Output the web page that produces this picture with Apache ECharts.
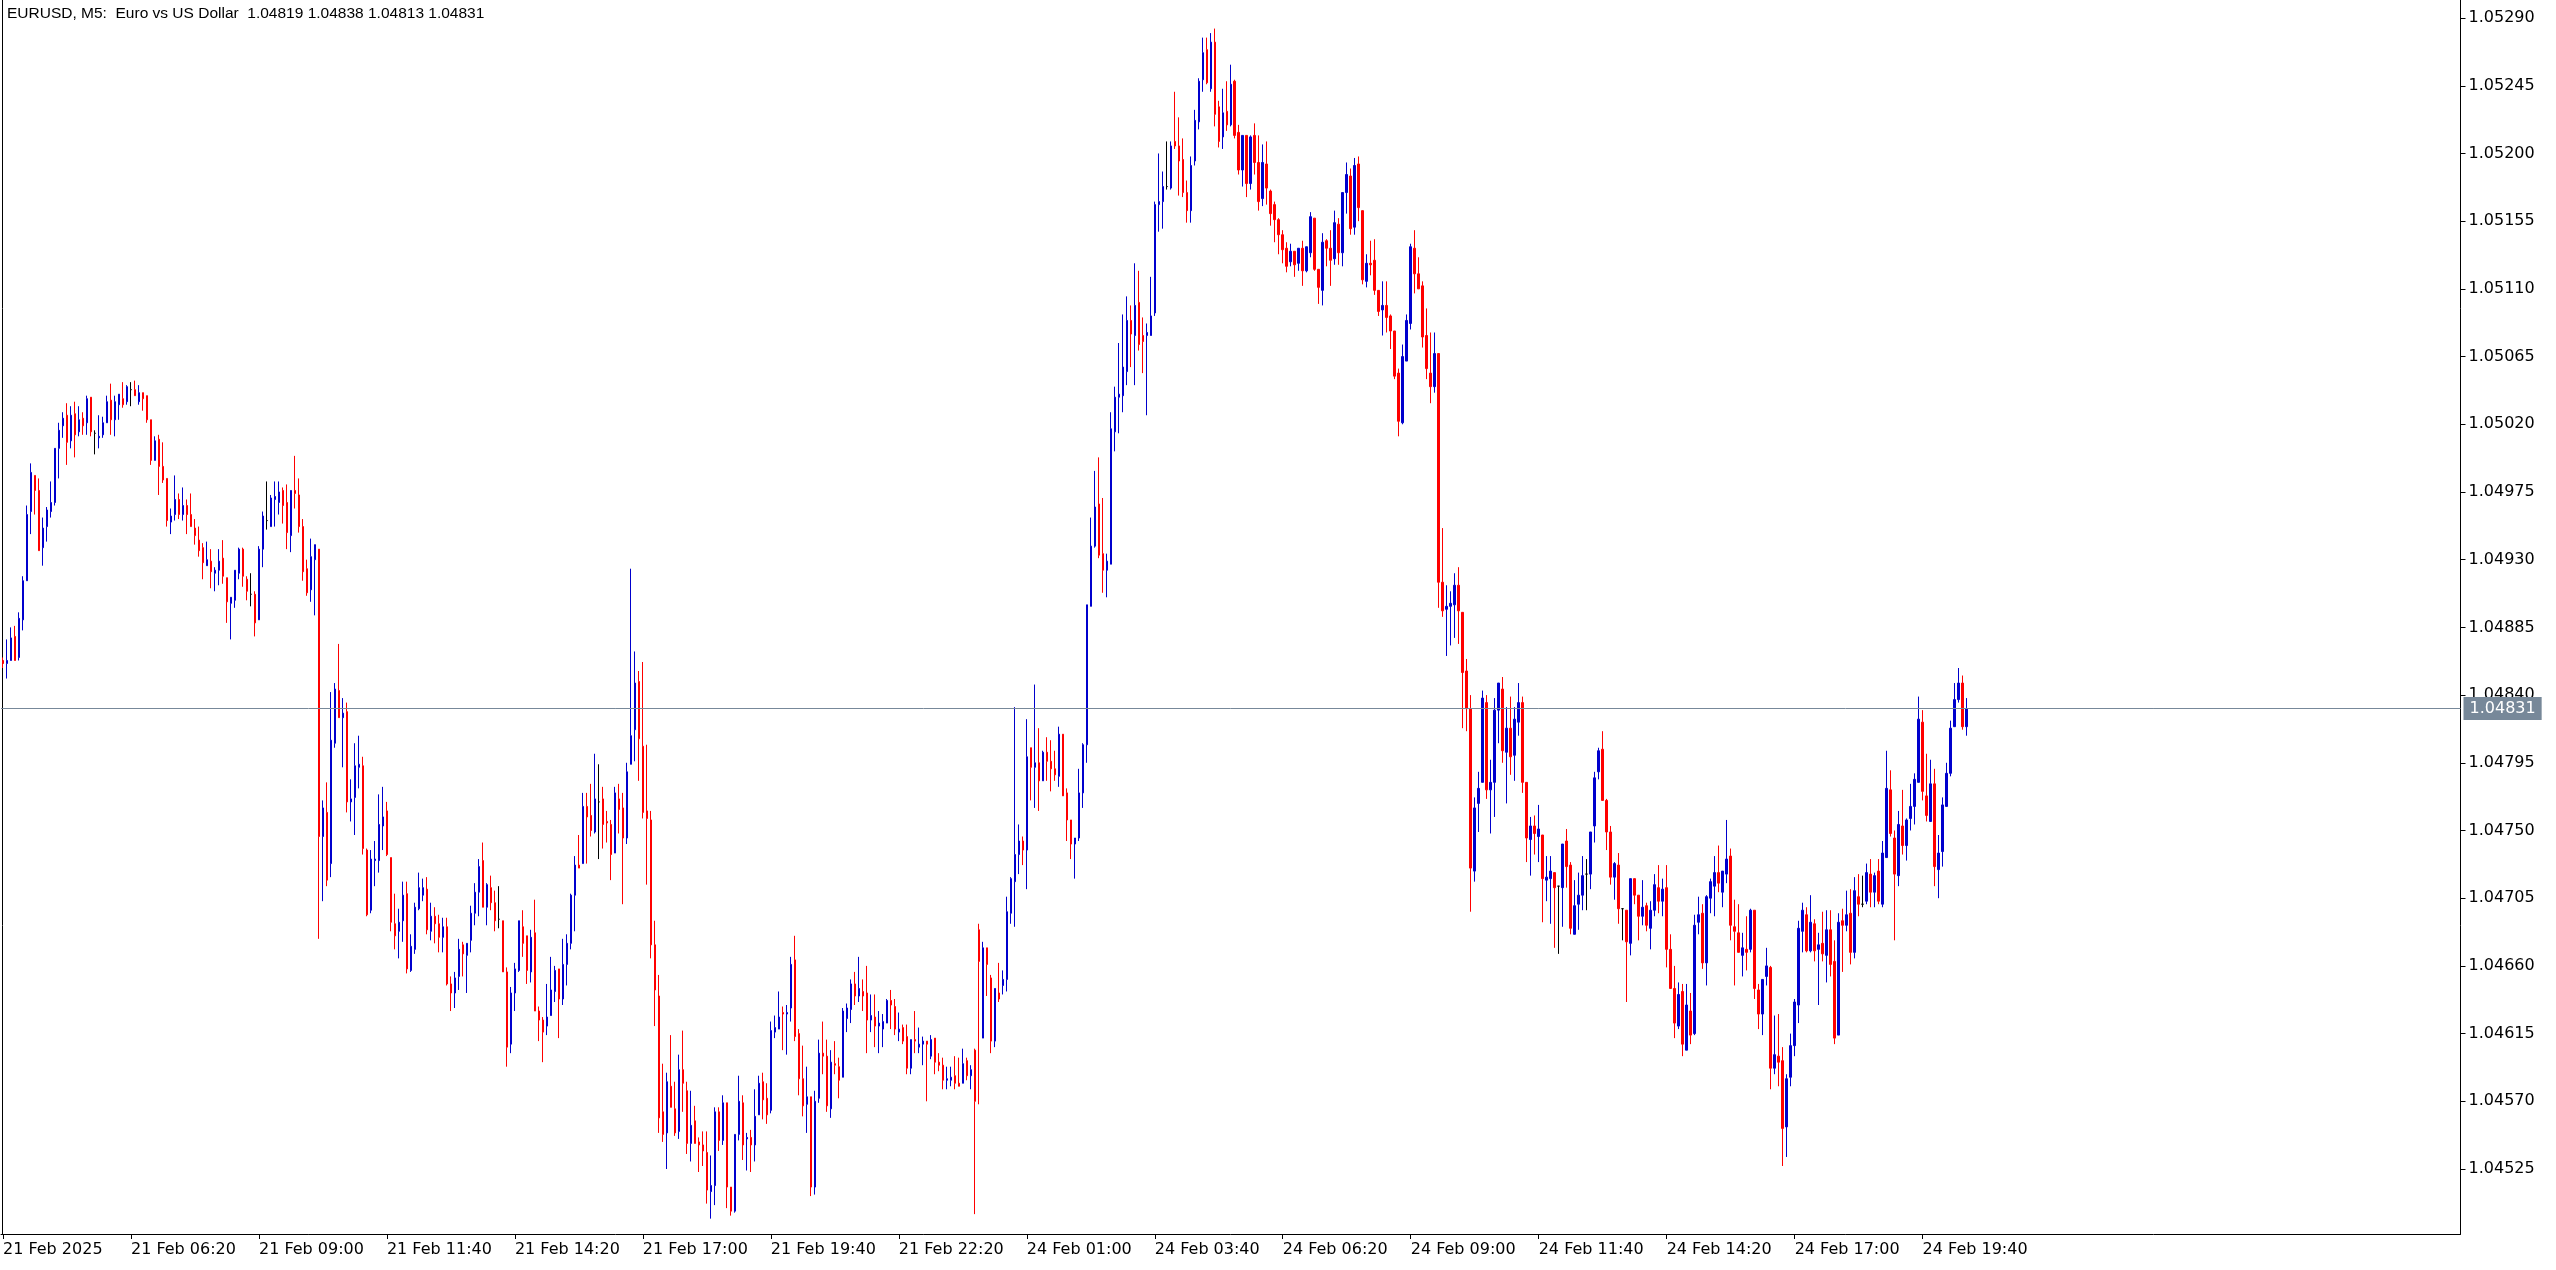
<!DOCTYPE html>
<html>
<head>
<meta charset="utf-8">
<script src="https://cdn.jsdelivr.net/npm/echarts@6/dist/echarts.min.js"></script>
<style>
html,body{margin:0;padding:0;background:#fff;}
#chart{width:2556px;height:1270px;}
</style>
</head>
<body>
<div id="chart"></div>
<script>
// ---- data (EURUSD M5 candles) ----
const symbolTitle = 'EURUSD, M5:  Euro vs US Dollar';
const opens = [
1.04863,1.04861,1.04863,1.04879,1.04865,1.04890,1.04916,1.04962,1.04986,1.04976,
1.04938,1.04952,1.04962,1.04968,1.05004,1.05019,1.05026,1.05009,1.05027,1.05015,
1.05024,1.05021,1.05038,1.05014,1.05011,1.05013,1.05021,1.05036,1.05023,1.05033,
1.05037,1.05035,1.05043,1.05043,1.05035,1.05041,1.05039,1.05023,1.04996,1.05010,
1.04992,1.04984,1.04955,1.04960,1.04970,1.04960,1.04966,1.04960,1.04951,1.04943,
1.04938,1.04926,1.04929,1.04921,1.04923,1.04931,1.04918,1.04901,1.04903,1.04921,
1.04937,1.04917,1.04907,1.04907,1.04890,1.04937,1.04956,1.04952,1.04970,1.04968,
1.04976,1.04968,1.04946,1.04976,1.04973,1.04952,1.04924,1.04910,1.04930,1.04937,
1.04746,1.04762,1.04728,1.04808,1.04843,1.04825,1.04829,1.04769,1.04772,1.04792,
1.04793,1.04737,1.04697,1.04730,1.04730,1.04753,1.04763,1.04732,1.04688,1.04683,
1.04690,1.04708,1.04657,1.04671,1.04698,1.04707,1.04711,1.04683,1.04693,1.04688,
1.04679,1.04686,1.04648,1.04642,1.04653,1.04674,1.04667,1.04677,1.04695,1.04709,
1.04730,1.04699,1.04712,1.04702,1.04691,1.04690,1.04656,1.04608,1.04642,1.04657,
1.04686,1.04680,1.04656,1.04682,1.04630,1.04624,1.04620,1.04627,1.04643,1.04658,
1.04638,1.04661,1.04675,1.04707,1.04727,1.04728,1.04766,1.04760,1.04749,1.04769,
1.04771,1.04756,1.04754,1.04735,1.04771,1.04765,1.04745,1.04794,1.04817,1.04849,
1.04806,1.04763,1.04757,1.04674,1.04640,1.04563,1.04549,1.04580,1.04565,1.04550,
1.04591,1.04577,1.04542,1.04557,1.04543,1.04541,1.04536,1.04510,1.04514,1.04563,
1.04544,1.04569,1.04513,1.04497,1.04548,1.04569,1.04545,1.04546,1.04541,1.04561,
1.04583,1.04572,1.04564,1.04616,1.04618,1.04629,1.04628,1.04632,1.04664,1.04615,
1.04585,1.04568,1.04573,1.04513,1.04572,1.04602,1.04600,1.04565,1.04595,1.04593,
1.04586,1.04625,1.04631,1.04648,1.04640,1.04643,1.04642,1.04624,1.04626,1.04620,
1.04618,1.04622,1.04637,1.04633,1.04616,1.04619,1.04613,1.04592,1.04611,1.04606,
1.04608,1.04610,1.04600,1.04612,1.04596,1.04594,1.04584,1.04584,1.04587,1.04582,
1.04582,1.04597,1.04587,1.04604,1.04684,1.04612,1.04672,1.04652,1.04610,1.04642,
1.04647,1.04651,1.04695,1.04716,1.04734,1.04743,1.04737,1.04805,1.04792,1.04795,
1.04783,1.04802,1.04796,1.04791,1.04786,1.04814,1.04775,1.04757,1.04741,1.04745,
1.04775,1.04807,1.04899,1.04939,1.04967,1.04934,1.04923,1.04927,1.05015,1.05038,
1.05039,1.05055,1.05089,1.05079,1.05101,1.05079,1.05079,1.05079,1.05094,1.05166,
1.05168,1.05178,1.05177,1.05208,1.05205,1.05196,1.05174,1.05162,1.05195,1.05221,
1.05249,1.05269,1.05243,1.05274,1.05231,1.05211,1.05228,1.05219,1.05248,1.05214,
1.05189,1.05212,1.05180,1.05212,1.05194,1.05170,1.05193,1.05175,1.05166,1.05156,
1.05146,1.05137,1.05128,1.05135,1.05127,1.05137,1.05122,1.05134,1.05157,1.05123,
1.05109,1.05142,1.05137,1.05130,1.05153,1.05134,1.05174,1.05185,1.05151,1.05193,
1.05162,1.05115,1.05127,1.05129,1.05109,1.05096,1.05099,1.05092,1.05082,1.05054,
1.05021,1.05062,1.05087,1.05137,1.05120,1.05112,1.05079,1.05054,1.05045,1.05067,
1.04915,1.04897,1.04899,1.04900,1.04913,1.04895,1.04856,1.04831,1.04723,1.04768,
1.04782,1.04835,1.04777,1.04782,1.04830,1.04844,1.04802,1.04818,1.04800,1.04822,
1.04835,1.04782,1.04744,1.04753,1.04746,1.04747,1.04717,1.04718,1.04722,1.04713,
1.04712,1.04743,1.04727,1.04681,1.04701,1.04707,1.04721,1.04721,1.04753,1.04789,
1.04804,1.04770,1.04749,1.04719,1.04727,1.04698,1.04697,1.04675,1.04718,1.04707,
1.04693,1.04700,1.04685,1.04697,1.04712,1.04703,1.04712,1.04671,1.04645,1.04620,
1.04643,1.04604,1.04630,1.04615,1.04689,1.04695,1.04662,1.04705,1.04713,1.04722,
1.04709,1.04721,1.04733,1.04686,1.04682,1.04667,1.04671,1.04671,1.04697,1.04644,
1.04628,1.04653,1.04659,1.04592,1.04600,1.04597,1.04553,1.04586,1.04607,1.04634,
1.04683,1.04694,1.04670,1.04688,1.04671,1.04675,1.04667,1.04684,1.04663,1.04614,
1.04690,1.04687,1.04695,1.04669,1.04706,1.04701,1.04703,1.04721,1.04709,1.04723,
1.04701,1.04732,1.04777,1.04745,1.04720,1.04753,1.04740,1.04758,1.04766,1.04782,
1.04822,1.04773,1.04756,1.04781,1.04724,1.04736,1.04766,1.04788,1.04819,1.04837,
1.04848,1.04819
];
const highs = [
1.04865,1.04877,1.04885,1.04886,1.04895,1.04919,1.04966,1.04994,1.04986,1.04984,
1.04958,1.04965,1.04982,1.05004,1.05021,1.05028,1.05034,1.05032,1.05035,1.05032,
1.05028,1.05039,1.05038,1.05016,1.05026,1.05025,1.05039,1.05047,1.05039,1.05040,
1.05048,1.05046,1.05048,1.05049,1.05046,1.05041,1.05039,1.05023,1.05012,1.05013,
1.05008,1.04984,1.04964,1.04986,1.04974,1.04978,1.04970,1.04974,1.04957,1.04952,
1.04941,1.04942,1.04937,1.04925,1.04937,1.04943,1.04918,1.04905,1.04923,1.04938,
1.04938,1.04919,1.04921,1.04909,1.04939,1.04962,1.04982,1.04973,1.04982,1.04982,
1.04978,1.04980,1.04976,1.04999,1.04984,1.04957,1.04930,1.04944,1.04940,1.04937,
1.04770,1.04782,1.04842,1.04848,1.04874,1.04838,1.04835,1.04784,1.04808,1.04813,
1.04799,1.04738,1.04737,1.04743,1.04774,1.04779,1.04769,1.04732,1.04708,1.04698,
1.04716,1.04716,1.04681,1.04702,1.04722,1.04718,1.04719,1.04702,1.04699,1.04694,
1.04692,1.04692,1.04653,1.04656,1.04678,1.04676,1.04675,1.04700,1.04715,1.04731,
1.04742,1.04715,1.04720,1.04710,1.04713,1.04690,1.04659,1.04646,1.04662,1.04690,
1.04697,1.04680,1.04684,1.04704,1.04633,1.04626,1.04648,1.04666,1.04660,1.04658,
1.04678,1.04681,1.04708,1.04733,1.04747,1.04775,1.04775,1.04781,1.04801,1.04794,
1.04779,1.04763,1.04757,1.04779,1.04781,1.04775,1.04795,1.04924,1.04869,1.04856,
1.04862,1.04807,1.04763,1.04690,1.04654,1.04595,1.04589,1.04614,1.04583,1.04601,
1.04617,1.04583,1.04577,1.04567,1.04546,1.04550,1.04550,1.04534,1.04566,1.04566,
1.04574,1.04569,1.04513,1.04548,1.04587,1.04574,1.04549,1.04551,1.04578,1.04587,
1.04589,1.04582,1.04623,1.04627,1.04643,1.04633,1.04634,1.04666,1.04680,1.04618,
1.04607,1.04593,1.04573,1.04577,1.04611,1.04623,1.04611,1.04604,1.04610,1.04599,
1.04632,1.04635,1.04651,1.04656,1.04666,1.04651,1.04660,1.04641,1.04641,1.04630,
1.04628,1.04638,1.04644,1.04638,1.04629,1.04621,1.04621,1.04611,1.04630,1.04619,
1.04613,1.04610,1.04614,1.04612,1.04602,1.04599,1.04593,1.04593,1.04600,1.04599,
1.04605,1.04599,1.04594,1.04605,1.04688,1.04676,1.04672,1.04654,1.04645,1.04662,
1.04657,1.04706,1.04719,1.04832,1.04754,1.04746,1.04824,1.04805,1.04847,1.04818,
1.04803,1.04812,1.04810,1.04803,1.04819,1.04814,1.04778,1.04757,1.04745,1.04791,
1.04808,1.04900,1.04958,1.04989,1.04998,1.04971,1.04934,1.05028,1.05045,1.05074,
1.05093,1.05105,1.05099,1.05127,1.05122,1.05091,1.05087,1.05118,1.05168,1.05200,
1.05188,1.05208,1.05208,1.05241,1.05224,1.05210,1.05182,1.05198,1.05229,1.05250,
1.05277,1.05277,1.05280,1.05283,1.05235,1.05243,1.05248,1.05259,1.05249,1.05219,
1.05212,1.05212,1.05212,1.05220,1.05212,1.05206,1.05208,1.05176,1.05168,1.05157,
1.05149,1.05141,1.05140,1.05135,1.05137,1.05142,1.05138,1.05161,1.05157,1.05123,
1.05147,1.05143,1.05149,1.05162,1.05157,1.05174,1.05194,1.05190,1.05197,1.05198,
1.05162,1.05133,1.05142,1.05143,1.05109,1.05115,1.05115,1.05093,1.05082,1.05057,
1.05073,1.05093,1.05140,1.05149,1.05131,1.05115,1.05097,1.05081,1.05081,1.05067,
1.04951,1.04913,1.04909,1.04921,1.04925,1.04895,1.04864,1.04840,1.04772,1.04789,
1.04843,1.04840,1.04797,1.04838,1.04848,1.04852,1.04832,1.04839,1.04832,1.04848,
1.04839,1.04782,1.04759,1.04760,1.04767,1.04747,1.04733,1.04733,1.04722,1.04713,
1.04741,1.04751,1.04729,1.04717,1.04722,1.04733,1.04731,1.04749,1.04789,1.04805,
1.04816,1.04771,1.04753,1.04729,1.04735,1.04698,1.04697,1.04718,1.04718,1.04707,
1.04717,1.04702,1.04703,1.04721,1.04727,1.04718,1.04727,1.04681,1.04660,1.04649,
1.04648,1.04648,1.04642,1.04694,1.04706,1.04701,1.04707,1.04718,1.04733,1.04740,
1.04723,1.04757,1.04738,1.04704,1.04701,1.04682,1.04693,1.04698,1.04697,1.04648,
1.04651,1.04672,1.04660,1.04627,1.04628,1.04606,1.04588,1.04615,1.04638,1.04690,
1.04702,1.04699,1.04707,1.04691,1.04682,1.04696,1.04697,1.04697,1.04677,1.04695,
1.04698,1.04710,1.04711,1.04719,1.04721,1.04720,1.04728,1.04731,1.04722,1.04731,
1.04743,1.04803,1.04790,1.04750,1.04763,1.04777,1.04758,1.04781,1.04788,1.04839,
1.04830,1.04801,1.04797,1.04791,1.04747,1.04772,1.04795,1.04823,1.04848,1.04858,
1.04853,1.04838
];
const lows = [
1.04858,1.04851,1.04863,1.04863,1.04863,1.04883,1.04916,1.04947,1.04960,1.04936,
1.04926,1.04942,1.04958,1.04966,1.04984,1.05011,1.04993,1.05004,1.04998,1.05012,
1.05013,1.05013,1.05012,1.05000,1.05004,1.05011,1.05021,1.05013,1.05012,1.05023,
1.05031,1.05033,1.05032,1.05039,1.05033,1.05029,1.05021,1.04993,1.04996,1.04973,
1.04981,1.04952,1.04947,1.04956,1.04957,1.04956,1.04947,1.04952,1.04940,1.04932,
1.04917,1.04926,1.04911,1.04909,1.04913,1.04914,1.04888,1.04877,1.04898,1.04917,
1.04912,1.04903,1.04899,1.04879,1.04890,1.04925,1.04950,1.04952,1.04952,1.04960,
1.04954,1.04937,1.04935,1.04964,1.04948,1.04916,1.04906,1.04902,1.04893,1.04678,
1.04703,1.04713,1.04719,1.04805,1.04825,1.04792,1.04762,1.04756,1.04747,1.04778,
1.04734,1.04693,1.04695,1.04713,1.04722,1.04737,1.04733,1.04683,1.04671,1.04665,
1.04676,1.04655,1.04656,1.04668,1.04697,1.04703,1.04681,1.04677,1.04675,1.04669,
1.04669,1.04647,1.04630,1.04632,1.04644,1.04653,1.04642,1.04669,1.04687,1.04693,
1.04699,1.04687,1.04697,1.04683,1.04685,1.04656,1.04593,1.04602,1.04630,1.04656,
1.04666,1.04648,1.04649,1.04630,1.04610,1.04596,1.04614,1.04627,1.04636,1.04612,
1.04634,1.04647,1.04671,1.04683,1.04725,1.04728,1.04728,1.04746,1.04748,1.04731,
1.04738,1.04742,1.04717,1.04735,1.04748,1.04701,1.04741,1.04794,1.04796,1.04783,
1.04758,1.04714,1.04665,1.04620,1.04549,1.04543,1.04525,1.04566,1.04547,1.04545,
1.04563,1.04535,1.04530,1.04542,1.04523,1.04527,1.04502,1.04492,1.04501,1.04537,
1.04541,1.04499,1.04494,1.04496,1.04544,1.04531,1.04524,1.04523,1.04530,1.04561,
1.04558,1.04555,1.04562,1.04612,1.04618,1.04604,1.04601,1.04623,1.04610,1.04574,
1.04560,1.04549,1.04507,1.04508,1.04569,1.04588,1.04563,1.04559,1.04588,1.04572,
1.04586,1.04616,1.04622,1.04634,1.04636,1.04630,1.04602,1.04616,1.04606,1.04602,
1.04606,1.04622,1.04618,1.04614,1.04610,1.04608,1.04588,1.04588,1.04602,1.04602,
1.04594,1.04570,1.04598,1.04588,1.04590,1.04578,1.04578,1.04580,1.04578,1.04580,
1.04582,1.04584,1.04578,1.04495,1.04568,1.04612,1.04640,1.04602,1.04606,1.04636,
1.04641,1.04643,1.04688,1.04686,1.04721,1.04727,1.04711,1.04770,1.04765,1.04763,
1.04783,1.04783,1.04776,1.04783,1.04779,1.04773,1.04743,1.04731,1.04718,1.04743,
1.04765,1.04795,1.04899,1.04938,1.04931,1.04908,1.04905,1.04927,1.05002,1.05014,
1.05028,1.05046,1.05058,1.05046,1.05069,1.05054,1.05026,1.05079,1.05092,1.05148,
1.05150,1.05176,1.05176,1.05203,1.05172,1.05171,1.05154,1.05154,1.05192,1.05216,
1.05241,1.05246,1.05241,1.05218,1.05204,1.05203,1.05215,1.05218,1.05210,1.05186,
1.05178,1.05171,1.05176,1.05186,1.05162,1.05165,1.05166,1.05152,1.05141,1.05133,
1.05127,1.05121,1.05125,1.05118,1.05122,1.05112,1.05121,1.05131,1.05122,1.05100,
1.05099,1.05125,1.05112,1.05126,1.05126,1.05125,1.05160,1.05146,1.05146,1.05155,
1.05113,1.05111,1.05119,1.05106,1.05092,1.05079,1.05081,1.05070,1.05050,1.05012,
1.05020,1.05062,1.05083,1.05107,1.05110,1.05071,1.05050,1.05034,1.05041,1.04898,
1.04892,1.04866,1.04873,1.04878,1.04874,1.04818,1.04816,1.04696,1.04716,1.04749,
1.04782,1.04771,1.04748,1.04759,1.04808,1.04795,1.04768,1.04787,1.04783,1.04813,
1.04775,1.04729,1.04720,1.04734,1.04729,1.04689,1.04703,1.04688,1.04672,1.04668,
1.04686,1.04712,1.04681,1.04681,1.04684,1.04697,1.04697,1.04711,1.04742,1.04784,
1.04770,1.04737,1.04714,1.04704,1.04688,1.04677,1.04636,1.04667,1.04701,1.04677,
1.04687,1.04683,1.04671,1.04693,1.04695,1.04693,1.04659,1.04645,1.04612,1.04618,
1.04600,1.04604,1.04608,1.04614,1.04681,1.04658,1.04647,1.04695,1.04693,1.04709,
1.04699,1.04715,1.04677,1.04647,1.04669,1.04653,1.04657,1.04669,1.04638,1.04618,
1.04614,1.04647,1.04578,1.04588,1.04580,1.04527,1.04533,1.04580,1.04600,1.04622,
1.04669,1.04669,1.04669,1.04663,1.04634,1.04663,1.04649,1.04653,1.04608,1.04614,
1.04656,1.04683,1.04661,1.04665,1.04693,1.04699,1.04701,1.04699,1.04699,1.04701,
1.04699,1.04732,1.04746,1.04677,1.04713,1.04734,1.04730,1.04750,1.04754,1.04782,
1.04770,1.04756,1.04756,1.04713,1.04705,1.04726,1.04766,1.04786,1.04819,1.04835,
1.04817,1.04813
];
const closes = [
1.04861,1.04863,1.04878,1.04863,1.04891,1.04916,1.04960,1.04988,1.04976,1.04936,
1.04951,1.04963,1.04968,1.05004,1.05016,1.05024,1.05008,1.05026,1.05013,1.05023,
1.05019,1.05037,1.05015,1.05014,1.05012,1.05021,1.05035,1.05023,1.05035,1.05040,
1.05033,1.05045,1.05043,1.05039,1.05041,1.05037,1.05023,1.04996,1.05009,1.04992,
1.04983,1.04956,1.04959,1.04970,1.04960,1.04966,1.04960,1.04952,1.04946,1.04936,
1.04928,1.04930,1.04922,1.04923,1.04929,1.04919,1.04902,1.04905,1.04923,1.04937,
1.04919,1.04909,1.04907,1.04888,1.04937,1.04959,1.04956,1.04971,1.04972,1.04975,
1.04966,1.04948,1.04976,1.04974,1.04952,1.04922,1.04908,1.04932,1.04940,1.04746,
1.04765,1.04717,1.04810,1.04844,1.04825,1.04828,1.04769,1.04771,1.04793,1.04794,
1.04738,1.04694,1.04731,1.04731,1.04754,1.04759,1.04734,1.04689,1.04680,1.04689,
1.04707,1.04658,1.04673,1.04699,1.04712,1.04712,1.04684,1.04693,1.04688,1.04679,
1.04686,1.04648,1.04642,1.04652,1.04671,1.04668,1.04675,1.04695,1.04709,1.04726,
1.04699,1.04714,1.04702,1.04690,1.04691,1.04656,1.04606,1.04642,1.04658,1.04690,
1.04675,1.04657,1.04679,1.04630,1.04624,1.04616,1.04626,1.04644,1.04657,1.04638,
1.04661,1.04675,1.04707,1.04727,1.04725,1.04766,1.04759,1.04750,1.04771,1.04769,
1.04754,1.04755,1.04734,1.04775,1.04764,1.04745,1.04789,1.04813,1.04848,1.04811,
1.04762,1.04758,1.04674,1.04644,1.04559,1.04548,1.04583,1.04566,1.04549,1.04591,
1.04582,1.04542,1.04554,1.04542,1.04541,1.04537,1.04511,1.04514,1.04563,1.04544,
1.04569,1.04513,1.04497,1.04548,1.04570,1.04541,1.04546,1.04541,1.04560,1.04582,
1.04571,1.04561,1.04617,1.04619,1.04626,1.04628,1.04629,1.04661,1.04613,1.04585,
1.04567,1.04573,1.04513,1.04570,1.04602,1.04600,1.04567,1.04596,1.04594,1.04584,
1.04630,1.04632,1.04648,1.04640,1.04645,1.04640,1.04624,1.04627,1.04620,1.04622,
1.04623,1.04637,1.04634,1.04618,1.04618,1.04610,1.04592,1.04611,1.04610,1.04608,
1.04610,1.04608,1.04611,1.04596,1.04594,1.04584,1.04585,1.04586,1.04582,1.04580,
1.04595,1.04587,1.04591,1.04570,1.04663,1.04672,1.04661,1.04610,1.04645,1.04638,
1.04651,1.04696,1.04718,1.04734,1.04743,1.04737,1.04799,1.04792,1.04795,1.04783,
1.04802,1.04796,1.04791,1.04787,1.04814,1.04773,1.04757,1.04741,1.04745,1.04775,
1.04807,1.04900,1.04939,1.04965,1.04933,1.04923,1.04929,1.05017,1.05038,1.05040,
1.05058,1.05089,1.05080,1.05099,1.05073,1.05075,1.05081,1.05092,1.05166,1.05168,
1.05178,1.05178,1.05205,1.05205,1.05195,1.05174,1.05162,1.05192,1.05222,1.05248,
1.05267,1.05247,1.05274,1.05226,1.05208,1.05227,1.05219,1.05246,1.05212,1.05189,
1.05212,1.05180,1.05211,1.05194,1.05168,1.05194,1.05177,1.05160,1.05156,1.05146,
1.05136,1.05125,1.05135,1.05126,1.05137,1.05122,1.05138,1.05158,1.05123,1.05111,
1.05141,1.05137,1.05129,1.05154,1.05134,1.05174,1.05186,1.05150,1.05192,1.05164,
1.05116,1.05127,1.05126,1.05109,1.05095,1.05099,1.05091,1.05082,1.05052,1.05022,
1.05065,1.05089,1.05138,1.05120,1.05110,1.05078,1.05057,1.05045,1.05067,1.04915,
1.04896,1.04899,1.04901,1.04913,1.04896,1.04855,1.04831,1.04725,1.04765,1.04778,
1.04838,1.04777,1.04782,1.04830,1.04848,1.04803,1.04818,1.04799,1.04824,1.04835,
1.04782,1.04745,1.04753,1.04748,1.04751,1.04718,1.04719,1.04723,1.04712,1.04713,
1.04741,1.04726,1.04685,1.04700,1.04707,1.04720,1.04721,1.04749,1.04785,1.04803,
1.04770,1.04749,1.04719,1.04728,1.04698,1.04698,1.04676,1.04718,1.04707,1.04693,
1.04699,1.04687,1.04697,1.04714,1.04703,1.04711,1.04671,1.04645,1.04622,1.04641,
1.04608,1.04634,1.04614,1.04687,1.04694,1.04662,1.04706,1.04716,1.04722,1.04715,
1.04723,1.04731,1.04687,1.04683,1.04669,1.04672,1.04669,1.04697,1.04645,1.04628,
1.04651,1.04660,1.04592,1.04601,1.04596,1.04552,1.04585,1.04607,1.04636,1.04685,
1.04697,1.04670,1.04689,1.04670,1.04674,1.04668,1.04684,1.04661,1.04612,1.04689,
1.04687,1.04694,1.04669,1.04710,1.04701,1.04701,1.04722,1.04709,1.04720,1.04703,
1.04735,1.04778,1.04748,1.04721,1.04754,1.04740,1.04757,1.04766,1.04784,1.04824,
1.04776,1.04760,1.04781,1.04726,1.04735,1.04767,1.04788,1.04818,1.04837,1.04848,
1.04819,1.04831
];
const yTickValues = [1.05290,1.05245,1.05200,1.05155,1.05110,1.05065,1.05020,1.04975,1.04930,1.04885,
  1.04840,1.04795,1.04750,1.04705,1.04660,1.04615,1.04570,1.04525];
const xTickLabels = ['21 Feb 2025','21 Feb 06:20','21 Feb 09:00','21 Feb 11:40','21 Feb 14:20','21 Feb 17:00',
  '21 Feb 19:40','21 Feb 22:20','24 Feb 01:00','24 Feb 03:40','24 Feb 06:20','24 Feb 09:00','24 Feb 11:40',
  '24 Feb 14:20','24 Feb 17:00','24 Feb 19:40'];

// ---- layout constants ----
const LABEL_STEP = 32;        // one time label every 32 bars
const FRIDAY_BARS = 244;      // 21 Feb 03:40 .. 23:55
const FUTURE_SLOTS = 123;     // empty space right of the last bar
const Y_MIN = 1.044818, Y_MAX = 1.053020;

function pad(n){ return (n < 10 ? '0' : '') + n; }
const categories = [];
for (let i = 0; i < opens.length + FUTURE_SLOTS; i++) {
  let day, m;
  if (i < FRIDAY_BARS) { day = '21 Feb'; m = 3 * 60 + 40 + 5 * i; }
  else { day = '24 Feb'; m = (5 * (i - FRIDAY_BARS)) % 1440; }
  categories.push(day + ' ' + pad(Math.floor(m / 60)) + ':' + pad(m % 60));
}
const candles = opens.map((o, i) => [o, closes[i], lows[i], highs[i]]);
const last = opens.length - 1;
const headerText = symbolTitle + '  ' + [opens[last], highs[last], lows[last], closes[last]].map(v => v.toFixed(5)).join(' ');

const showTick = (idx) => idx % LABEL_STEP === 0 && idx / LABEL_STEP < xTickLabels.length;

const chart = echarts.init(document.getElementById('chart'), null, { renderer: 'canvas' });
chart.setOption({
  animation: false,
  backgroundColor: '#ffffff',
  grid: { left: 0.5, right: 95.5, top: 0, bottom: 36, containLabel: false },
  graphic: [
    { type: 'text', left: 7, top: 6, silent: true,
      style: { text: headerText, fill: '#000', font: '15.5px "Liberation Sans", Arial, sans-serif' } },
    { type: 'line', silent: true, shape: { x1: 2.5, y1: 0, x2: 2.5, y2: 1234 },
      style: { stroke: '#000', lineWidth: 1 } }
  ],
  xAxis: {
    type: 'category',
    data: categories,
    boundaryGap: true,
    axisLine: { show: true, lineStyle: { color: '#000', width: 1 } },
    axisTick: { show: true, alignWithLabel: true, length: 5, interval: showTick, lineStyle: { color: '#000' } },
    axisLabel: {
      show: true, interval: showTick, align: 'left', margin: 8,
      color: '#000', fontSize: 16, fontFamily: 'DejaVu Sans',
      formatter: (val, idx) => xTickLabels[idx / LABEL_STEP] || ''
    },
    splitLine: { show: false }
  },
  yAxis: {
    type: 'value',
    position: 'right',
    min: Y_MIN, max: Y_MAX,
    axisLine: { show: true, lineStyle: { color: '#000', width: 1 } },
    axisTick: { show: true, length: 5, customValues: yTickValues, lineStyle: { color: '#000' } },
    axisLabel: { show: true, customValues: yTickValues, margin: 8, color: '#000', fontSize: 16,
      fontFamily: 'DejaVu Sans', formatter: v => v.toFixed(5) },
    splitLine: { show: false }
  },
  series: [{
    type: 'candlestick',
    data: candles,
    barWidth: 2,
    large: false,
    silent: true,
    itemStyle: {
      color: '#0000CD', color0: '#FF0000',
      borderColor: '#0000CD', borderColor0: '#FF0000', borderColorDoji: '#000000',
      borderWidth: 1
    },
    markLine: {
      silent: true,
      precision: 5,
      symbol: ['none', 'none'],
      animation: false,
      data: [{ yAxis: closes[last] }],
      lineStyle: { color: '#778899', width: 1, type: 'solid' },
      label: {
        show: true, position: 'end', distance: 3,
        formatter: p => Number(p.value).toFixed(5),
        backgroundColor: '#778899', color: '#ffffff',
        padding: [4, 6, 3, 6], fontSize: 16, fontFamily: 'DejaVu Sans'
      }
    }
  }]
});
</script>
</body>
</html>
